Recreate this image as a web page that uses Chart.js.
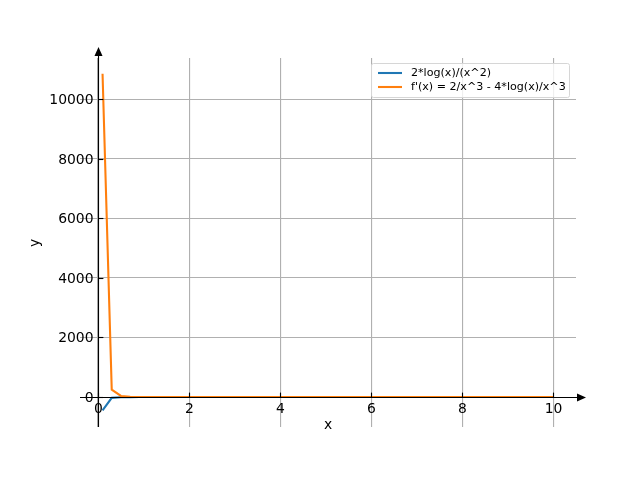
<!DOCTYPE html>
<html>
<head>
<meta charset="utf-8">
<script src="https://cdn.jsdelivr.net/npm/chart.js@4.4.0/dist/chart.umd.min.js"></script>
<style>
  html, body { margin: 0; padding: 0; background: #fff; }
  canvas { display: block; }
</style>
</head>
<body>
<canvas id="chart" width="640" height="480"></canvas>
<script>
// sample points along x (0.1 .. 10)
const xValues = [
  0.1, 0.302, 0.504, 0.706, 0.908, 1.110, 1.312, 1.514, 1.716, 1.918,
  2.120, 2.322, 2.524, 2.727, 2.929, 3.131, 3.333, 3.535, 3.737, 3.939,
  4.141, 4.343, 4.545, 4.747, 4.949, 5.151, 5.353, 5.555, 5.757, 5.959,
  6.161, 6.363, 6.565, 6.767, 6.969, 7.171, 7.373, 7.576, 7.778, 7.980,
  8.182, 8.384, 8.586, 8.788, 8.990, 9.192, 9.394, 9.596, 9.798, 10.0
];
// 2*log(x)/(x^2)
const blueValues = [
  -450, -26.25, -5.392, -1.396, -0.234, 0.170, 0.316, 0.362, 0.367, 0.354,
  0.334, 0.312, 0.291, 0.270, 0.251, 0.233, 0.217, 0.202, 0.189, 0.177,
  0.166, 0.156, 0.147, 0.138, 0.131, 0.124, 0.117, 0.111, 0.106, 0.101,
  0.096, 0.091, 0.087, 0.084, 0.080, 0.077, 0.074, 0.071, 0.068, 0.065,
  0.063, 0.061, 0.058, 0.056, 0.054, 0.053, 0.051, 0.049, 0.048, 0.046
];
// f'(x) = 2/x^3 - 4*log(x)/x^3
const orangeValues = [
  10850, 246.4, 37.01, 9.634, 3.185, 1.156, 0.404, 0.098, -0.032, -0.086,
  -0.106, -0.109, -0.106, -0.099, -0.092, -0.084, -0.076, -0.069, -0.063, -0.057,
  -0.052, -0.047, -0.043, -0.040, -0.036, -0.033, -0.031, -0.028, -0.026, -0.024,
  -0.023, -0.021, -0.020, -0.018, -0.017, -0.016, -0.015, -0.014, -0.013, -0.012,
  -0.012, -0.011, -0.010, -0.010, -0.009, -0.009, -0.008, -0.008, -0.008, -0.007
];
const seriesNames = ["2*log(x)/(x^2)", "f'(x) = 2/x^3 - 4*log(x)/x^3"];
const seriesColors = ["#1f77b4", "#ff7f0e"];
const xTicks = [0, 2, 4, 6, 8, 10];
const yTicks = [0, 2000, 4000, 6000, 8000, 10000];

const FONT = "DejaVu Sans";

function toPoints(ys) {
  return xValues.map((x, i) => ({ x: x, y: ys[i] }));
}

// axes through the origin, arrows, tick labels, titles and legend (matplotlib look)
const centerAxes = {
  id: "centerAxes",
  afterDraw(chart) {
    const ctx = chart.ctx;
    const xs = chart.scales.x, ys = chart.scales.y;
    const area = chart.chartArea;
    const x0 = Math.round(xs.getPixelForValue(0)) + 0.5;
    const y0 = Math.round(ys.getPixelForValue(0)) + 0.5;

    ctx.save();
    ctx.strokeStyle = "#000";
    ctx.fillStyle = "#000";
    ctx.lineWidth = 1.11;

    // x axis + arrow
    ctx.beginPath();
    ctx.moveTo(area.left, y0);
    ctx.lineTo(582, y0);
    ctx.stroke();
    ctx.beginPath();
    ctx.moveTo(586, y0);
    ctx.lineTo(577, y0 - 4);
    ctx.lineTo(577, y0 + 4);
    ctx.closePath();
    ctx.fill();

    // y axis + arrow
    ctx.beginPath();
    ctx.moveTo(x0, area.bottom);
    ctx.lineTo(x0, 52);
    ctx.stroke();
    ctx.beginPath();
    ctx.moveTo(x0, 47);
    ctx.lineTo(x0 - 4, 56);
    ctx.lineTo(x0 + 4, 56);
    ctx.closePath();
    ctx.fill();

    // ticks (pointing inward) and labels
    ctx.lineWidth = 1.11;
    ctx.font = "13.9px '" + FONT + "'";
    ctx.textAlign = "center";
    ctx.textBaseline = "top";
    xTicks.forEach(v => {
      const px = Math.round(xs.getPixelForValue(v)) + 0.5;
      ctx.beginPath();
      ctx.moveTo(px, y0);
      ctx.lineTo(px, y0 - 4.9);
      ctx.stroke();
      ctx.fillText(String(v), px, y0 + 4.5);
    });
    ctx.textAlign = "right";
    ctx.textBaseline = "middle";
    yTicks.forEach(v => {
      const py = Math.round(ys.getPixelForValue(v)) + 0.5;
      ctx.beginPath();
      ctx.moveTo(x0, py);
      ctx.lineTo(x0 + 4.9, py);
      ctx.stroke();
      ctx.fillText(String(v), x0 - 5, py + 0.5);
    });

    // axis titles
    ctx.textAlign = "center";
    ctx.fillText("x", 328, 425);
    ctx.save();
    ctx.translate(35, 243);
    ctx.rotate(-Math.PI / 2);
    ctx.fillText("y", 0, 0);
    ctx.restore();

    // legend box
    const lx = 371.5, ly = 63.5, lw = 198, lh = 34, r = 2;
    ctx.fillStyle = "rgba(255,255,255,0.8)";
    ctx.strokeStyle = "#d6d6d6";
    ctx.lineWidth = 1;
    ctx.beginPath();
    ctx.moveTo(lx + r, ly);
    ctx.arcTo(lx + lw, ly, lx + lw, ly + lh, r);
    ctx.arcTo(lx + lw, ly + lh, lx, ly + lh, r);
    ctx.arcTo(lx, ly + lh, lx, ly, r);
    ctx.arcTo(lx, ly, lx + lw, ly, r);
    ctx.closePath();
    ctx.fill();
    ctx.stroke();

    ctx.font = "11.1px '" + FONT + "'";
    ctx.textAlign = "left";
    ctx.textBaseline = "middle";
    seriesNames.forEach((name, i) => {
      const rowY = 73 + i * 14;
      ctx.strokeStyle = seriesColors[i];
      ctx.lineWidth = 2.08;
      ctx.beginPath();
      ctx.moveTo(378, rowY);
      ctx.lineTo(402, rowY);
      ctx.stroke();
      ctx.fillStyle = "#000";
      ctx.fillText(name, 411, rowY);
    });
    ctx.restore();
  }
};

new Chart(document.getElementById("chart"), {
  type: "scatter",
  data: {
    datasets: [
      {
        label: seriesNames[0],
        data: toPoints(blueValues),
        showLine: true,
        borderColor: seriesColors[0],
        borderWidth: 2.08,
        pointRadius: 0,
        order: 2
      },
      {
        label: seriesNames[1],
        data: toPoints(orangeValues),
        showLine: true,
        borderColor: seriesColors[1],
        borderWidth: 2.08,
        pointRadius: 0,
        order: 1
      }
    ]
  },
  options: {
    responsive: false,
    devicePixelRatio: 1,
    animation: false,
    layout: { padding: { left: 80, top: 58, right: 64, bottom: 53 } },
    plugins: { legend: { display: false }, tooltip: { enabled: false } },
    scales: {
      x: {
        type: "linear",
        min: -0.395,
        max: 10.495,
        afterBuildTicks: s => { s.ticks = xTicks.map(v => ({ value: v })); },
        ticks: { display: false },
        grid: { color: "#b0b0b0", lineWidth: 1.11, drawTicks: false },
        border: { display: false }
      },
      y: {
        type: "linear",
        min: -1005,
        max: 11380,
        afterBuildTicks: s => { s.ticks = yTicks.map(v => ({ value: v })); },
        ticks: { display: false },
        grid: { color: "#b0b0b0", lineWidth: 1.11, drawTicks: false },
        border: { display: false }
      }
    }
  },
  plugins: [centerAxes]
});
</script>
</body>
</html>
